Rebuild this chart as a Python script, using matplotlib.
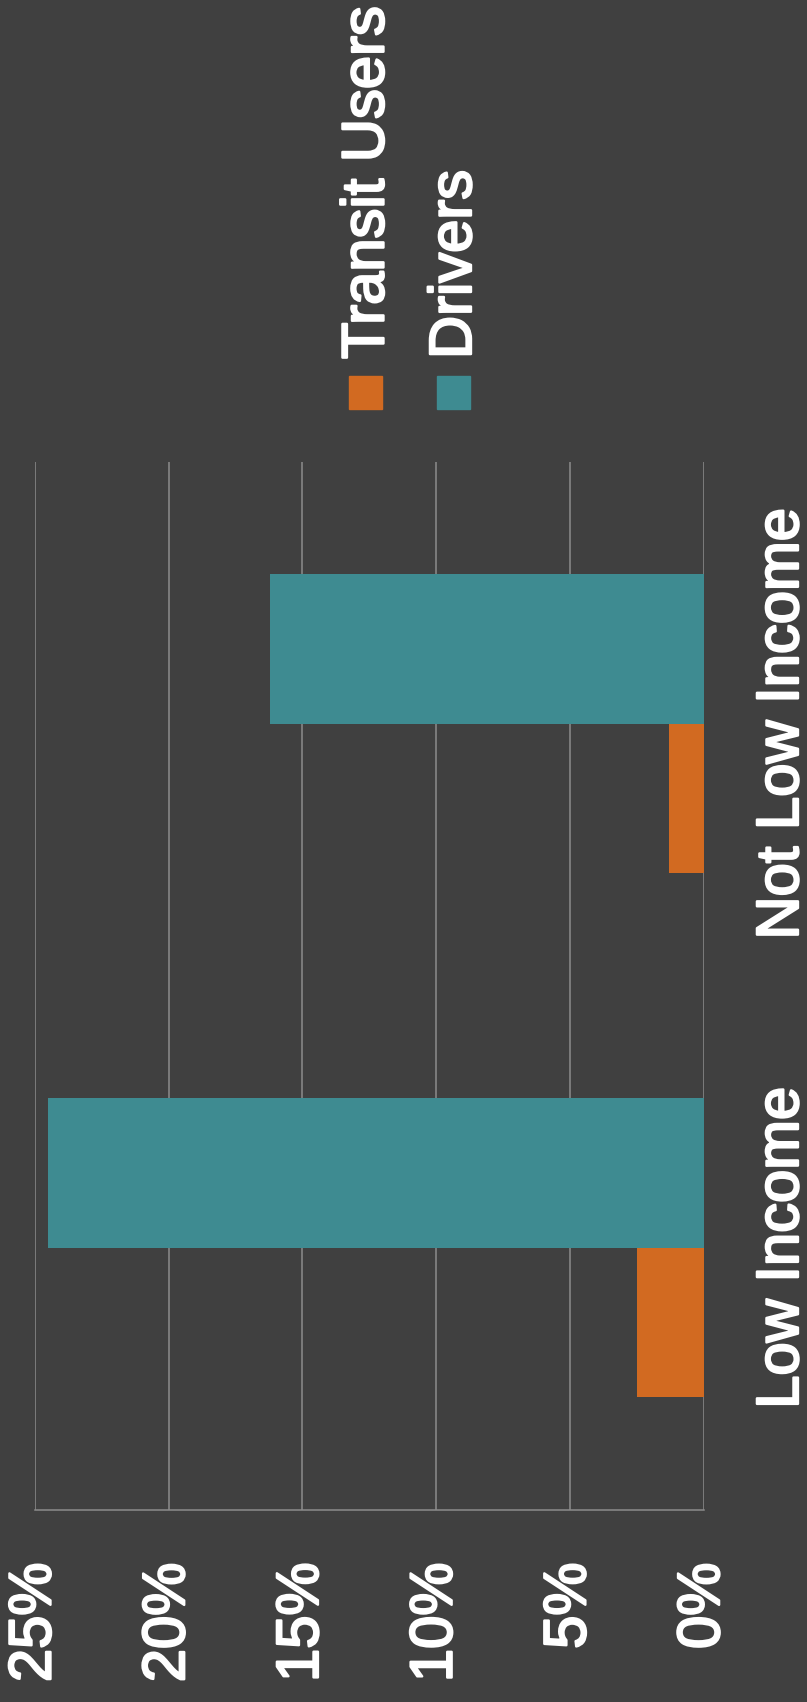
import matplotlib
matplotlib.use("Agg")
import matplotlib.pyplot as plt
import matplotlib.patheffects as pe
import numpy as np

categories = ["Low Income", "Not Low Income"]
series_names = ["Transit Users", "Drivers"]
transit_users = [2.5, 1.3]
drivers = [24.5, 16.2]
ticks = [0, 5, 10, 15, 20, 25]

bg = "#404040"
orange = "#D26A21"
teal = "#3E8B91"
grid_col = "#8C8C8C"

plt.rcParams['font.family'] = ['Liberation Sans', 'DejaVu Sans']
# a thin white stroke makes the labels a touch heavier
thick = [pe.Stroke(linewidth=1.7, foreground="white"), pe.Normal()]

fig = plt.figure(figsize=(8.07, 17.02), dpi=100, facecolor=bg)
W, H = 807.0, 1702.0
ax = fig.add_axes([35 / W, 1 - 1509.7 / H, 668.6 / W, 1048.1 / H])
ax.set_facecolor(bg)

pos = np.arange(len(categories))
bw = 1 / 3.5
ax.barh(pos - bw / 2, transit_users, height=bw, color=orange, zorder=3)
ax.barh(pos + bw / 2, drivers, height=bw, color=teal, zorder=3)

ax.set_xlim(25, 0)
ax.set_ylim(-0.5, len(categories) - 0.5)
ax.set_xticks(ticks)
ax.set_xticklabels([f"{t}%" for t in ticks], rotation=90, color="white",
                   fontsize=43, va="top", ha="center")
ax.tick_params(axis="x", length=0, pad=38)

ax.yaxis.tick_right()
ax.set_yticks(pos)
ax.set_yticklabels(categories, rotation=90, color="white", fontsize=43,
                   va="center", ha="left")
ax.tick_params(axis="y", length=0, pad=37)

for lab in ax.get_xticklabels() + ax.get_yticklabels():
    lab.set_path_effects(thick)

ax.grid(axis="x", color=grid_col, linewidth=1.1, zorder=0)
for side in ["top", "left", "right"]:
    ax.spines[side].set_visible(False)
ax.spines["bottom"].set_color(grid_col)
ax.spines["bottom"].set_linewidth(1.1)

# legend drawn by hand so it can be turned on its side
legend_items = [(series_names[0], orange, 383.5, 349), (series_names[1], teal, 471, 437)]
for name, col, base_x, sq_x in legend_items:
    fig.patches.append(plt.Rectangle((sq_x / W, 1 - 409 / H), 33 / W, 33 / H,
                                     transform=fig.transFigure, color=col))
    fig.text(base_x / W, 1 - 359 / H, name, rotation=90, rotation_mode="anchor",
             ha="left", va="baseline", color="white", fontsize=43,
             path_effects=thick)

fig.savefig("out.png", dpi=100, facecolor=bg)
